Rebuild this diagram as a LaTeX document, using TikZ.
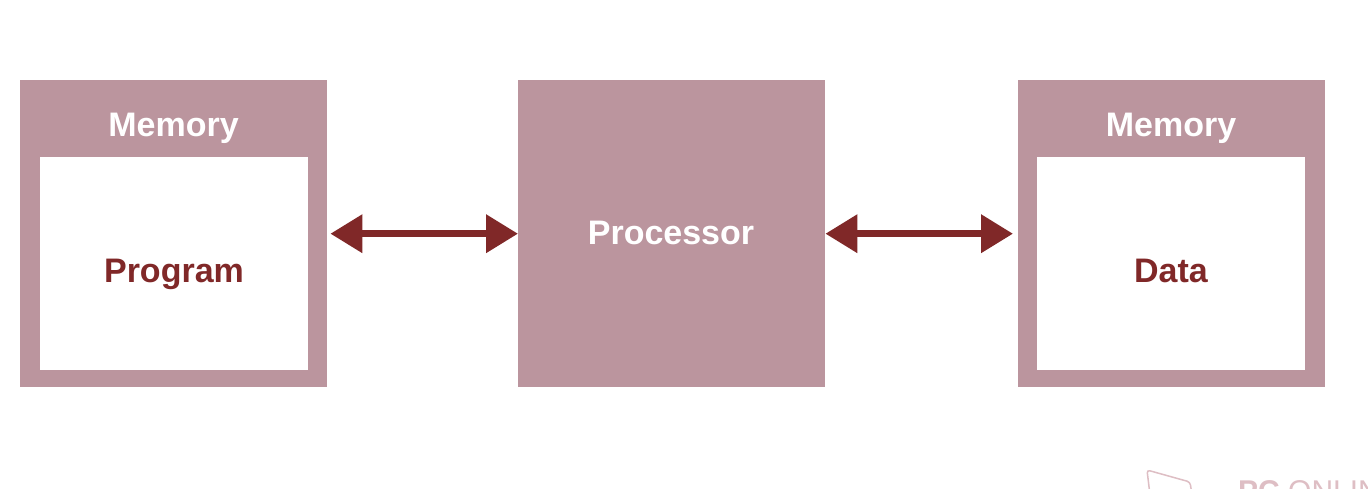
\documentclass[tikz,border=0pt]{standalone}
\usepackage{fontspec}
\setmainfont{Liberation Sans}
\usetikzlibrary{arrows.meta}
\definecolor{boxfill}{RGB}{187,149,158}
\definecolor{darkred}{RGB}{128,40,40}
\definecolor{wmark}{RGB}{222,190,196}
\begin{document}
\begin{tikzpicture}[x=1pt,y=-1pt,
  outerbox/.style={fill=boxfill, draw=none, minimum width=307pt, minimum height=307pt, anchor=north west, inner sep=0pt},
  innerbox/.style={fill=white, draw=none, minimum width=268pt, minimum height=213pt, anchor=north west, inner sep=0pt},
  title/.style={text=white, anchor=base, font=\fontsize{34}{40}\selectfont\bfseries},
  label/.style={text=darkred, anchor=base, font=\fontsize{34}{40}\selectfont\bfseries},
  link/.style={draw=darkred, line width=7pt, {Triangle[length=32pt,width=37pt]}-{Triangle[length=32pt,width=37pt]}}]
  \useasboundingbox (0,0) rectangle (1368,488);
  \fill[white] (0,0) rectangle (1368,488);

  % program memory
  \node[outerbox] (memL) at (20,80) {};
  \node[innerbox] (progbox) at (40,157) {};
  \node[title] (memLt) at (173.5,136) {Memory};
  \node[label] (prog) at (174,282) {Program};

  % processor
  \node[outerbox] (proc) at (518,80) {};
  \node[title] (proct) at (671,244) {Processor};

  % data memory
  \node[outerbox] (memR) at (1018,80) {};
  \node[innerbox] (databox) at (1037,157) {};
  \node[title] (memRt) at (1171,136) {Memory};
  \node[label] (data) at (1171,282) {Data};

  % buses
  \draw[link, shorten <=3pt] (memL.east) -- (proc.west);
  \draw[link, shorten >=5pt] (proc.east) -- (memR.west);

  % logo in the corner
  \begin{scope}
    \clip (0,0) rectangle (1368,488);
    \draw[wmark, line width=1.5pt, rounded corners=3pt] (1150,495) -- (1147,470) -- (1190,482) -- (1192,495);
    \node[anchor=north west, inner sep=0pt, text=wmark, font=\fontsize{30}{36}\selectfont] (logo) at (1238,480) {\textbf{PC} ONLINE};
  \end{scope}
\end{tikzpicture}
\end{document}
